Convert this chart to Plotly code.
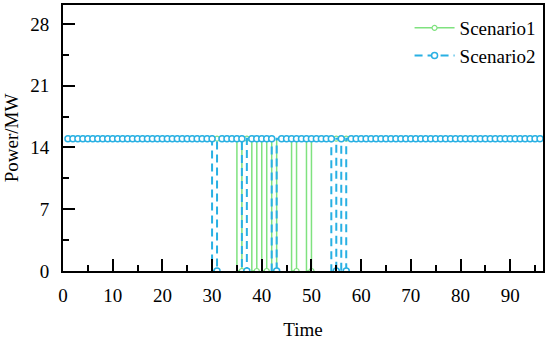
import plotly.graph_objects as go

time = list(range(1, 97))
base_power = 15
scenario1_zero_times = [36, 39, 41, 43, 47, 50]
scenario2_zero_times = [31, 37, 43, 55, 57]

scenario1 = [0 if t in scenario1_zero_times else base_power for t in time]
scenario2 = [0 if t in scenario2_zero_times else base_power for t in time]

x_ticks = [0, 10, 20, 30, 40, 50, 60, 70, 80, 90]
y_ticks = [0, 7, 14, 21, 28]

green = "#7FE27F"
blue = "#29B0E3"
font = "Liberation Serif"

fig = go.Figure()
fig.add_trace(go.Scatter(
    x=time, y=scenario1, name="Scenario1", mode="lines+markers",
    line=dict(color=green, width=1.5, shape="vh"),
    marker=dict(symbol="circle", size=5, color="white", line=dict(color=green, width=1.2)),
))
fig.add_trace(go.Scatter(
    x=time, y=scenario2, name="Scenario2", mode="lines+markers",
    line=dict(color=blue, width=2, dash="8px,5px", shape="vh"),
    marker=dict(symbol="circle", size=6, color="white", line=dict(color=blue, width=1.5)),
))

axis_common = dict(
    showline=True, linecolor="black", linewidth=2, mirror=True,
    ticks="inside", ticklen=12, tickwidth=2, tickcolor="black",
    showgrid=False, zeroline=False, automargin=False,
    tickfont=dict(family=font, size=19, color="black"),
    title_font=dict(family=font, size=19, color="black"),
)

fig.update_xaxes(
    range=[0, 96.6], tickvals=x_ticks, ticktext=[str(v) for v in x_ticks],
    minor=dict(dtick=5, tick0=0, ticks="inside", ticklen=6, tickwidth=2, tickcolor="black", showgrid=False),
    title_text="Time", title_standoff=19, ticklabelstandoff=6,
    **axis_common,
)
fig.update_yaxes(
    range=[0, 30.15], tickvals=y_ticks, ticktext=[str(v) for v in y_ticks],
    minor=dict(dtick=3.5, tick0=0, ticks="inside", ticklen=6, tickwidth=2, tickcolor="black", showgrid=False),
    title_text="Power/MW", title_standoff=7, ticklabelstandoff=8,
    **axis_common,
)

fig.update_layout(
    width=550, height=340,
    margin=dict(l=63, r=7, t=5, b=69, autoexpand=False),
    plot_bgcolor="white", paper_bgcolor="white",
    font=dict(family=font, size=19, color="black"),
    legend=dict(x=0.722, y=0.985, xanchor="left", yanchor="top", bgcolor="rgba(0,0,0,0)",
                font=dict(family=font, size=19, color="black"), tracegroupgap=0, itemwidth=40),
    showlegend=True,
)

fig.write_html("out.html", config={"displayModeBar": False},
               post_script="document.body.style.margin='0px';document.body.style.padding='0px';")
